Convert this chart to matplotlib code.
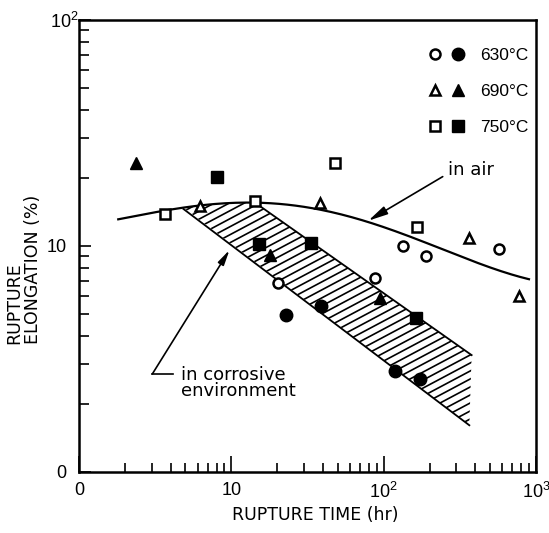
import numpy as np
import matplotlib
matplotlib.use("Agg")
import matplotlib.pyplot as plt
from matplotlib.legend_handler import HandlerTuple
from matplotlib.patches import Polygon
from matplotlib.collections import LineCollection
from matplotlib.transforms import Affine2D, ScaledTranslation

plt.rcParams["mathtext.fontset"] = "custom"
plt.rcParams["mathtext.rm"] = "Liberation Sans"
plt.rcParams["mathtext.it"] = "Liberation Sans"

# Rupture time (hr) vs rupture elongation (%)
# open symbols: tested in air, filled symbols: tested in corrosive environment
t630_air = [20.2, 87.1, 133, 191, 574]
e630_air = [6.87, 7.23, 9.96, 9.07, 9.65]
t630_cor = [23.0, 38.9, 118, 172]
e630_cor = [4.94, 5.42, 2.80, 2.57]

t690_air = [6.2, 38.1, 364, 772]
e690_air = [15.0, 15.5, 10.9, 5.98]
t690_cor = [2.37, 17.9, 95.2]
e690_cor = [23.2, 9.13, 5.88]

t750_air = [3.66, 14.4, 48.1, 166]
e750_air = [13.9, 15.8, 23.2, 12.1]
t750_cor = [8.1, 15.1, 33.2, 164]
e750_cor = [20.3, 10.2, 10.3, 4.80]

# trend curve for tests in air (control points)
air_t = [1.78, 3.67, 6.04, 9.8, 14.3, 28.2, 77.8, 173, 369, 914]
air_e = [13.2, 14.1, 14.95, 15.7, 15.9, 14.8, 12.8, 10.4, 8.85, 7.07]

# scatter band for the corrosive environment
band_start_t = 4.85           # band leaves the air curve here
band_upper_t = [14.3, 378]    # upper edge
band_upper_e = [15.9, 3.29]
band_lower_t = [4.85, 365]    # lower edge
band_lower_e = [14.58, 1.61]

temps = ["630", "690", "750"]

x_ticks = [1, 10, 100, 1000]
x_ticklabels = ["0", "10", r"$\mathregular{10^2}$", r"$\mathregular{10^3}$"]
y_ticks = [1, 10, 100]
y_ticklabels = ["0", "10", r"$\mathregular{10^2}$"]

W_PX, H_PX = 549, 533
L, R, T, B = 79, 536, 20, 472
fig = plt.figure(figsize=(W_PX / 100, H_PX / 100), dpi=100)
ax = fig.add_axes([L / W_PX, 1 - B / H_PX, (R - L) / W_PX, (B - T) / H_PX])
ax.set_xscale("log")
ax.set_yscale("log")
ax.set_xlim(1, 1000)
ax.set_ylim(1, 100)

# smooth trend through the control points (log-log polynomial)
lt, le = np.log10(air_t), np.log10(air_e)
coef = np.polyfit(lt, le, 4)
curve_lt = np.linspace(lt[0], lt[-1], 200)
curve_le = np.polyval(coef, curve_lt)

# ---- hatched band ----
top_t = np.linspace(np.log10(band_start_t), np.log10(band_upper_t[0]), 20)
top_e = np.polyval(coef, top_t)
poly_xy = list(zip(10 ** top_t, 10 ** top_e))
poly_xy += [(band_upper_t[1], band_upper_e[1]), (band_lower_t[1], band_lower_e[1])]
band = Polygon(poly_xy, closed=True, facecolor="none", edgecolor="none")
ax.add_patch(band)

ax_w, ax_h = R - L, B - T
slope = np.tan(np.radians(28))
step = 8.0
segs = []
for c in np.arange(-ax_w * slope - step, ax_h + step, step):
    segs.append([(0, c), (ax_w, c + slope * ax_w)])
hatch = LineCollection(segs, colors="black", linewidths=1.2,
                       transform=Affine2D().scale(1 / ax_w, 1 / ax_h) + ax.transAxes)
ax.add_collection(hatch)
hatch.set_clip_path(band)

ax.plot([band_upper_t[0], band_upper_t[1]],
        [10 ** np.polyval(coef, np.log10(band_upper_t[0])), band_upper_e[1]],
        color="black", lw=1.3)
ax.plot(band_lower_t, band_lower_e, color="black", lw=1.3)

# ---- air curve ----
ax.plot(10 ** curve_lt, 10 ** curve_le, color="black", lw=1.6, solid_capstyle="butt")

# ---- data points ----
open_kw = dict(ls="none", mfc="white", mec="black", mew=1.8)
fill_kw = dict(ls="none", mfc="black", mec="black", mew=1.0)
h630a, = ax.plot(t630_air, e630_air, marker="o", ms=7.2, **open_kw)
h630c, = ax.plot(t630_cor, e630_cor, marker="o", ms=9.0, **fill_kw)
h690a, = ax.plot(t690_air, e690_air, marker="^", ms=7.5, **open_kw)
h690c, = ax.plot(t690_cor, e690_cor, marker="^", ms=9.0, **fill_kw)
h750a, = ax.plot(t750_air, e750_air, marker="s", ms=7.5, **open_kw)
h750c, = ax.plot(t750_cor, e750_cor, marker="s", ms=8.5, **fill_kw)

leg = ax.legend([(h630a, h630c), (h690a, h690c), (h750a, h750c)],
                [f"{t}°C" for t in temps],
                handler_map={tuple: HandlerTuple(ndivide=None, pad=0.35)},
                loc="upper left", bbox_to_anchor=(427 / W_PX, 1 - 48 / H_PX),
                bbox_transform=fig.transFigure, frameon=False, borderpad=0,
                borderaxespad=0, handlelength=2.3, handletextpad=0.78,
                labelspacing=1.2, prop={"family": "Liberation Sans", "size": 12.5})

# ---- annotations ----
txt_font = {"family": "DejaVu Sans", "size": 13}
ax.annotate("in air", xy=(79.3, 12.94), xytext=(264, 21.7), ha="left", va="center",
            arrowprops=dict(arrowstyle="-|>,head_length=0.9,head_width=0.2",
                            color="black", lw=1.2, relpos=(0.0, 0.3),
                            shrinkA=2, shrinkB=0),
            **txt_font)
ax.text(4.67, 2.48, "in corrosive\nenvironment", ha="left", va="center",
        linespacing=0.85, **txt_font)
ax.plot([3.03, 4.16], [2.715, 2.715], color="black", lw=1.2)
ax.annotate("", xy=(9.73, 9.6), xytext=(3.03, 2.715),
            arrowprops=dict(arrowstyle="-|>,head_length=0.9,head_width=0.2",
                            color="black", lw=1.2, shrinkA=0, shrinkB=0))

# ---- axes styling ----
for s in ax.spines.values():
    s.set_linewidth(1.8)
ax.set_xticks(x_ticks)
ax.set_xticklabels(x_ticklabels)
ax.set_yticks(y_ticks)
ax.set_yticklabels(y_ticklabels)
ax.xaxis.set_minor_locator(matplotlib.ticker.LogLocator(base=10, subs=np.arange(2, 10)))
ax.yaxis.set_minor_locator(matplotlib.ticker.LogLocator(base=10, subs=np.arange(2, 10)))
ax.xaxis.set_minor_formatter(matplotlib.ticker.NullFormatter())
ax.yaxis.set_minor_formatter(matplotlib.ticker.NullFormatter())
ax.tick_params(axis="x", which="major", direction="in", length=11.5, width=1.2,
               top=False, pad=7)
ax.tick_params(axis="x", which="minor", direction="in", length=6.5, width=1.2, top=False)
ax.tick_params(axis="y", which="major", direction="in", length=8.5, width=1.2,
               right=False, pad=9)
ax.tick_params(axis="y", which="minor", direction="in", length=7.5, width=1.2, right=False)
for lab in ax.get_xticklabels() + ax.get_yticklabels():
    lab.set_fontfamily("Liberation Sans")
    lab.set_fontsize(13)
top_lab = ax.get_yticklabels()[-1]
top_lab.set_transform(top_lab.get_transform() + ScaledTranslation(0.12, 0.0, fig.dpi_scale_trans))

lab_font = {"family": "DejaVu Sans", "size": 12.5}
fig.text(315 / W_PX, 1 - 515 / H_PX, "RUPTURE TIME (hr)", ha="center", va="center",
         **lab_font)
fig.text(24 / W_PX, 1 - 344 / H_PX, "RUPTURE\nELONGATION (%)", rotation=90,
         ha="center", va="bottom", multialignment="left", linespacing=1.05,
         **lab_font)

fig.savefig("out.png", dpi=100)
